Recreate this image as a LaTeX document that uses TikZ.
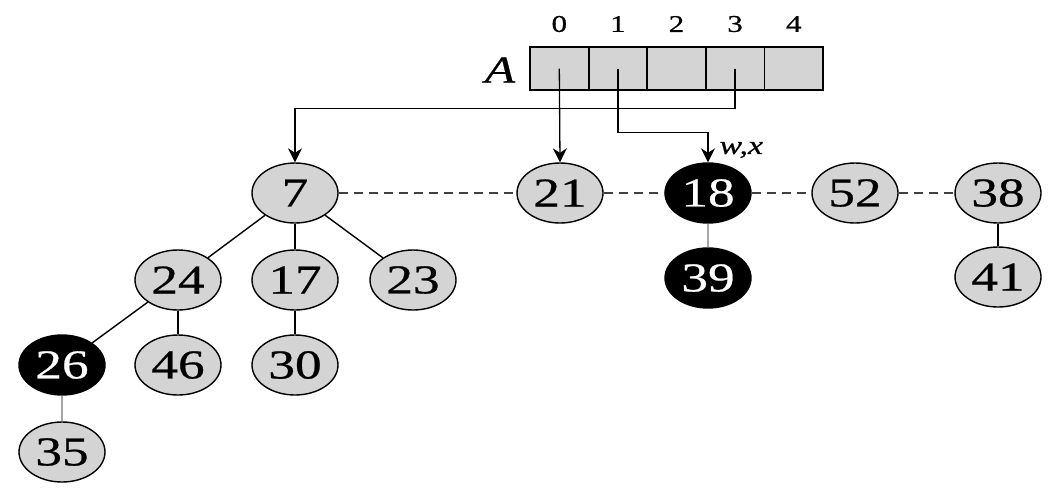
\documentclass[tikz,border=0pt]{standalone}
\usepackage{fontspec}
\setmainfont{Liberation Serif}
\newfontfamily\widefont[FakeStretch=1.3,FakeBold=0.6]{Liberation Serif}
\usetikzlibrary{arrows.meta,shapes.geometric}
\begin{document}
\begin{tikzpicture}[x=1pt,y=-1pt,
  hnode/.style={ellipse,draw=black,line width=1.4pt,fill=black!17,minimum width=86pt,minimum height=60pt,inner sep=0pt,font=\widefont\fontsize{41}{43}\selectfont},
  marked/.style={hnode,fill=black,text=white},
  tree/.style={line width=1.4pt},
  graytree/.style={line width=1.4pt,draw=black!35},
  root/.style={line width=1.3pt,dashed,dash pattern=on 9pt off 6pt,draw=black!75},
  ptr/.style={line width=1.3pt,-{Stealth[length=14pt,width=14pt]}},
  cell/.style={draw=black,line width=1.8pt,fill=black!17,minimum width=58.6pt,minimum height=43pt,inner sep=0pt,outer sep=0pt},
  idx/.style={font=\widefont\fontsize{24}{26}\selectfont}
]
\useasboundingbox (0,0) rectangle (1049,491);
% array
\foreach \i in {0,...,4} {
  \node[cell] (c\i) at ({559.3+58.6*\i},68.5) {};
  \node[idx] (i\i) at ({559.3+58.6*\i},24) {\i};
}
\node[font=\widefont\fontsize{38}{40}\selectfont\itshape] (A) at (500,70) {A};
% nodes
\node[hnode] (n7) at (295,193) {7};
\node[hnode] (n21) at (560,193) {21};
\node[marked] (n18) at (708,193) {18};
\node[hnode] (n52) at (855,193) {52};
\node[hnode] (n38) at (998,193) {38};
\node[hnode] (n41) at (998,277) {41};
\node[marked] (n39) at (708,278) {39};
\node[hnode] (n24) at (178,280) {24};
\node[hnode] (n17) at (295,280) {17};
\node[hnode] (n23) at (413,280) {23};
\node[marked] (n26) at (62,365) {26};
\node[hnode] (n46) at (178,365) {46};
\node[hnode] (n30) at (295,365) {30};
\node[hnode] (n35) at (62,452) {35};
% root list
\draw[root] (n7) -- (n21);
\draw[root] (n21) -- (n18);
\draw[root] (n18) -- (n52);
\draw[root] (n52) -- (n38);
% tree edges
\draw[tree] (n7) -- (n24);
\draw[tree] (n7) -- (n17);
\draw[tree] (n7) -- (n23);
\draw[tree] (n24) -- (n26);
\draw[tree] (n24) -- (n46);
\draw[tree] (n17) -- (n30);
\draw[graytree] (n26) -- (n35);
\draw[graytree] (n18) -- (n39);
\draw[tree] (n38) -- (n41);
% pointers
\coordinate (p0) at (c0.center);
\coordinate (p1) at (c1.center);
\coordinate (p3) at (c3.center);
\draw[ptr] (p0) -- (n21.north);
\draw[ptr] (p1) -- ++(0,64) -| (n18.north);
\draw[ptr] (p3) -- ++(0,40) -| (n7.north);
\node[font=\widefont\fontsize{26}{28}\selectfont\itshape,anchor=west] (wx) at (716,150) {w,x};
\end{tikzpicture}
\end{document}
